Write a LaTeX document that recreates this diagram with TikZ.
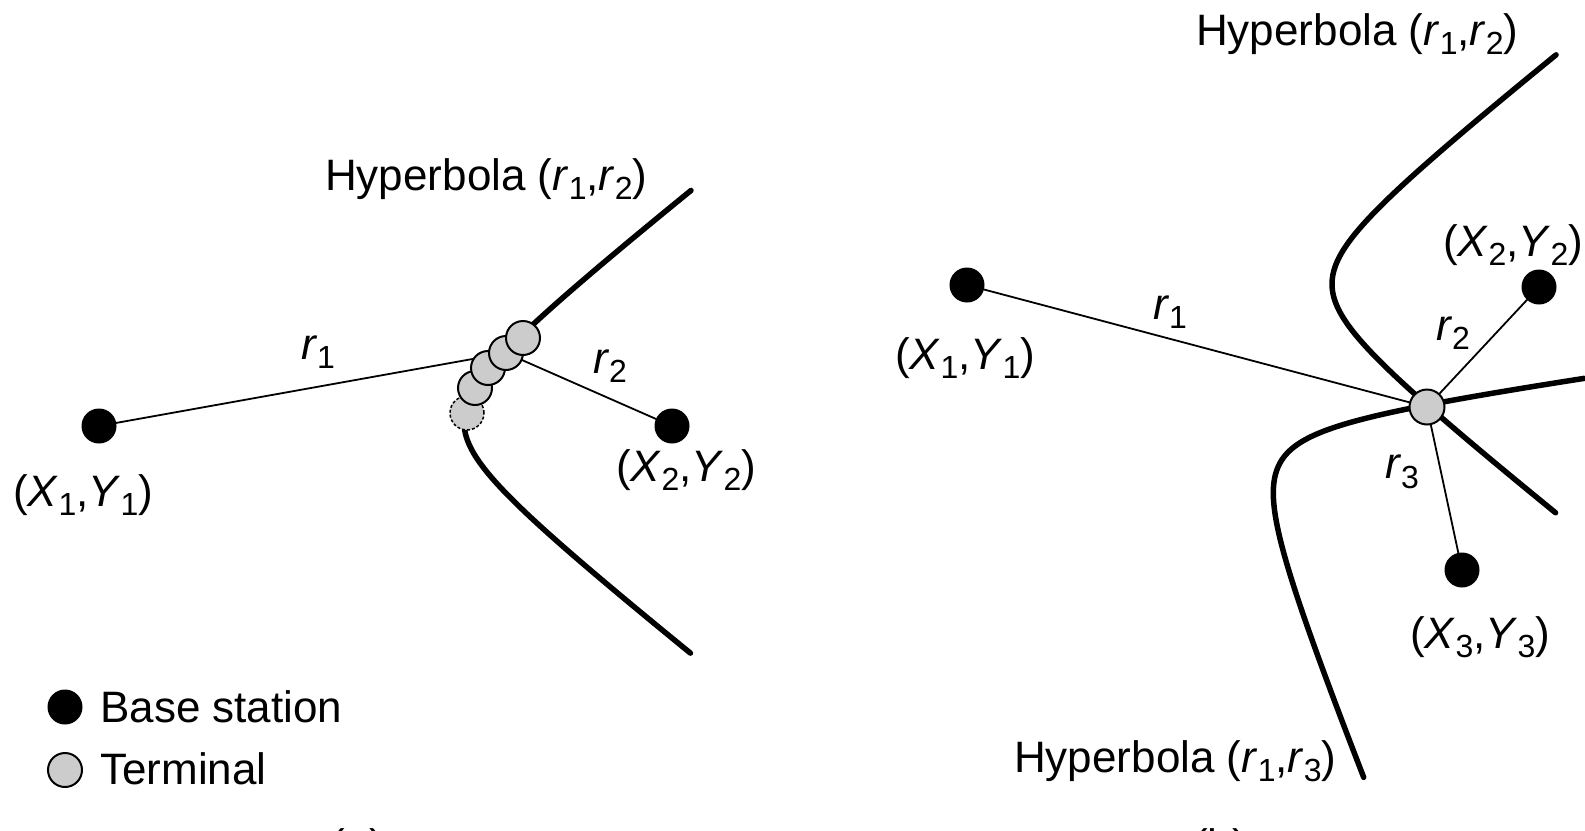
\documentclass[tikz,border=0pt]{standalone}
\usepackage{fontspec}
\setmainfont{Liberation Sans}
\pgfdeclarelayer{bg}
\pgfsetlayers{bg,main}
\definecolor{termgray}{gray}{0.8}
\newcommand\sbs[1]{\raisebox{-0.22em}{\fontsize{32}{32}\selectfont #1}}
\newcommand\rr[1]{\textit{r}\sbs{#1}}
\newcommand\XY[1]{(\textit{X}\sbs{#1},\textit{Y}\sbs{#1})}
\begin{document}
\begin{tikzpicture}[x=1pt,y=-1pt,
  lbl/.style={font=\fontsize{44}{50}\selectfont, inner sep=0pt},
  bs/.style={circle, fill=black, minimum size=35pt, inner sep=0pt},
  term/.style={circle, draw=black, line width=2pt, fill=termgray, minimum size=34pt, inner sep=0pt},
  ghost/.style={circle, draw=black, line width=1.5pt, dash pattern=on 3pt off 2pt, fill=termgray, minimum size=34pt, inner sep=0pt},
  hyp/.style={line width=5.5pt, line cap=round},
  conn/.style={line width=1.8pt}]
\useasboundingbox (0,0) rectangle (1585,830);

% ---------- panel (a) ----------
\node[bs] (a1) at (99,426) {};
\node[bs] (a2) at (672,426) {};
\node[ghost] (g0) at (467,413) {};
\node[term] (g4) at (475,388) {};
\node[term] (g3) at (488,368) {};
\node[term] (g2) at (506,353) {};
\node[term] (g1) at (523,338) {};
\node[lbl, anchor=base west] (ha) at (325,190) {Hyperbola (\rr{1},\rr{2})};
\node[lbl] (ra1) at (318,352) {\rr{1}};
\node[lbl] (ra2) at (610,366) {\rr{2}};
\node[lbl, anchor=base west] (xa1) at (13,506) {\XY{1}};
\node[lbl, anchor=base west] (xa2) at (616,481) {\XY{2}};
\node[bs] (lg1) at (65,707) {};
\node[term] (lg2) at (65,770) {};
\node[lbl, anchor=base west] (lt1) at (100,722) {Base station};
\node[lbl, anchor=base west] (lt2) at (100,784) {Terminal};
\node[lbl, anchor=base] (capa) at (357,860) {(a)};

% ---------- panel (b) ----------
\node[bs] (b1) at (967,285) {};
\node[bs] (b2) at (1539,287) {};
\node[bs] (b3) at (1462,570) {};
\node[term, minimum size=35pt] (tb) at (1427,407) {};
\node[lbl, anchor=base west] (hb1) at (1196,45) {Hyperbola (\rr{1},\rr{2})};
\node[lbl, anchor=base west] (hb2) at (1014,772) {Hyperbola (\rr{1},\rr{3})};
\node[lbl] (rb1) at (1170,312) {\rr{1}};
\node[lbl] (rb2) at (1453,333) {\rr{2}};
\node[lbl] (rb3) at (1402,472) {\rr{3}};
\node[lbl, anchor=base west] (xb1) at (895,369) {\XY{1}};
\node[lbl, anchor=base west] (xb2) at (1443,256) {\XY{2}};
\node[lbl, anchor=base west] (xb3) at (1410,648) {\XY{3}};
\node[lbl, anchor=base] (capb) at (1220,860) {(b)};

\begin{pgfonlayer}{bg}
  \draw[conn] (a1.center) -- (g2.center) -- (a2.center);
  \draw[hyp] plot[domain=-2.06:2.06, samples=120, smooth]
    ({388+76*(exp(\x)+exp(-\x))/2}, {422+60*(exp(\x)-exp(-\x))/2});
  \draw[conn] (b1.center) -- (tb.center);
  \draw[conn] (tb.center) -- (b2.center);
  \draw[conn] (tb.center) -- (b3.center);
  \draw[hyp] plot[domain=-2.05:2.05, samples=120, smooth]
    ({1256+76*(exp(\x)+exp(-\x))/2}, {284+60*(exp(\x)-exp(-\x))/2});
  \draw[hyp] plot[domain=-2.03:2.06, samples=120, smooth]
    ({0.866*(1263+77*(exp(\x)+exp(-\x))/2) - 0.5*(-240+60*(exp(\x)-exp(-\x))/2)},
     {0.5*(1263+77*(exp(\x)+exp(-\x))/2) + 0.866*(-240+60*(exp(\x)-exp(-\x))/2)});
\end{pgfonlayer}
\end{tikzpicture}
\end{document}
